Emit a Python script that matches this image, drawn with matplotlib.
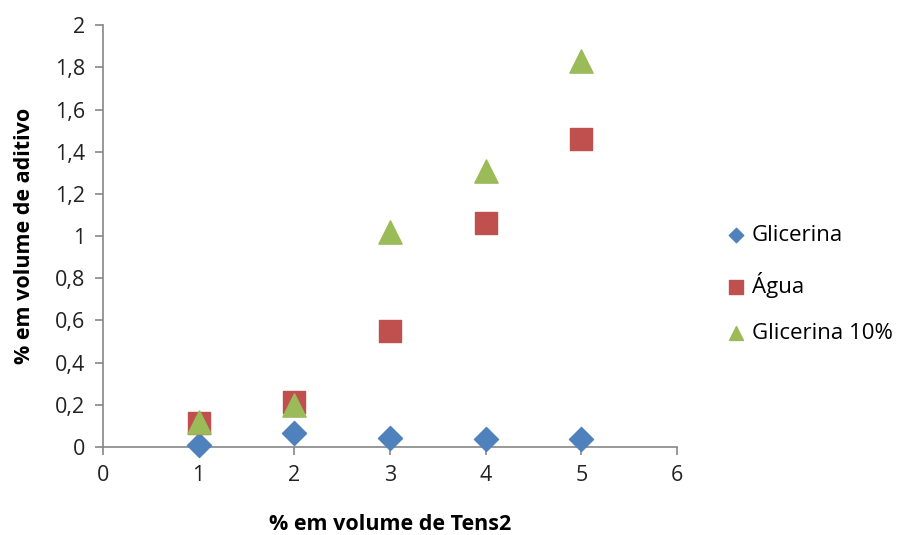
import matplotlib.pyplot as plt
from matplotlib.ticker import FuncFormatter

plt.rcParams['font.family'] = ['Open Sans', 'DejaVu Sans']

x = [1, 2, 3, 4, 5]
glicerina = [0.01, 0.068, 0.042, 0.04, 0.04]
agua = [0.112, 0.215, 0.55, 1.06, 1.46]
glicerina_10 = [0.117, 0.197, 1.02, 1.31, 1.83]

series_names = ['Glicerina', 'Água', 'Glicerina 10%']

fig = plt.figure(figsize=(9.08, 5.35), dpi=100)
ax = fig.add_axes([0.1134, 0.1645, 0.6322, 0.7885])

ax.scatter(x, glicerina, marker='D', s=150, color='#4F81BD', label=series_names[0],
           zorder=3, clip_on=False)
ax.scatter(x, agua, marker='s', s=250, color='#C0504D', label=series_names[1],
           zorder=3, clip_on=False)
ax.scatter(x, glicerina_10, marker='^', s=280, color='#9BBB59', label=series_names[2],
           zorder=4, clip_on=False)

ax.set_xlim(0, 6)
ax.set_ylim(0, 2)
ax.set_xticks(range(0, 7))
ax.set_yticks([i * 0.2 for i in range(11)])

# decimal comma labels
ax.yaxis.set_major_formatter(FuncFormatter(lambda v, p: f'{v:g}'.replace('.', ',')))

for side in ['top', 'right']:
    ax.spines[side].set_visible(False)
for side in ['left', 'bottom']:
    ax.spines[side].set_color('#868686')
    ax.spines[side].set_linewidth(1.2)
ax.tick_params(axis='both', direction='out', length=6, width=1.2, color='#868686',
               labelsize=15.5, labelcolor='#222222', pad=7)

ax.set_xlabel('% em volume de Tens2', fontsize=15.5, fontweight='bold', labelpad=20)
ax.set_ylabel('% em volume de aditivo', fontsize=15.5, fontweight='bold', labelpad=14)

ax.legend(loc='center left', bbox_to_anchor=(1.045, 0.385), frameon=False, fontsize=16,
          markerscale=0.6, handletextpad=0.1, labelspacing=1.15, handlelength=1.2)

fig.savefig('out.png', dpi=100)
